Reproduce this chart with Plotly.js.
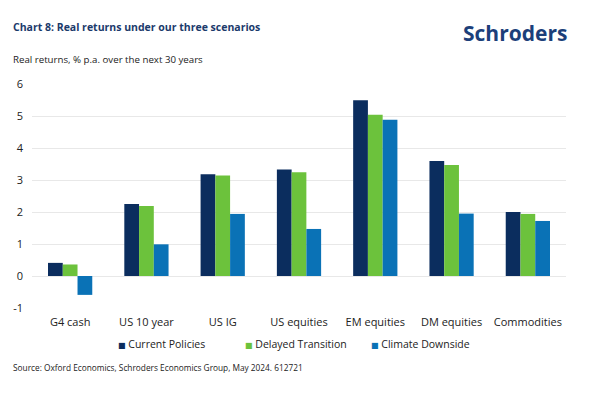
<!DOCTYPE html>
<html>
<head>
<meta charset="utf-8">
<script src="https://cdn.plot.ly/plotly-3.0.1.min.js"></script>
<style>
html,body{margin:0;padding:0;background:#fff;}
#chart{width:600px;height:396px;}
</style>
</head>
<body>
<div id="chart"></div>
<script>
const categories = ["G4 cash", "US 10 year", "US IG", "US equities", "EM equities", "DM equities", "Commodities"];
const currentPolicies = [0.41, 2.25, 3.18, 3.33, 5.49, 3.59, 2.00];
const delayedTransition = [0.36, 2.19, 3.14, 3.24, 5.04, 3.47, 1.94];
const climateDownside = [-0.59, 0.99, 1.94, 1.47, 4.88, 1.95, 1.72];
const seriesNames = ["Current Policies", "Delayed Transition", "Climate Downside"];
const yTicks = [-1, 0, 1, 2, 3, 4, 5, 6];

const colors = ["#0b2d5e", "#6cc23c", "#0a72b6"];
const font = "Open Sans, Noto Sans, sans-serif";
const seriesData = [currentPolicies, delayedTransition, climateDownside];
const legendIds = ["legend", "legend2", "legend3"];
const legendLeftPx = [78, 205, 331];

const traces = seriesData.map((vals, i) => ({
  type: "bar",
  name: seriesNames[i],
  x: categories,
  y: vals,
  marker: {color: colors[i], line: {width: 0}},
  showlegend: false,
  legendgroup: "g" + i
}));

// legend entries: small square glyph in the series colour
seriesNames.forEach((n, i) => {
  traces.push({
    type: "scatter",
    mode: "none",
    x: [null],
    y: [null],
    name: '<span style="color:' + colors[i] + ';font-family:DejaVu Sans;font-size:8px">■</span> ' + n,
    legendgroup: "g" + i,
    legend: legendIds[i],
    showlegend: true,
    hoverinfo: "skip"
  });
});

const layout = {
  width: 600,
  height: 396,
  paper_bgcolor: "#ffffff",
  plot_bgcolor: "#ffffff",
  margin: {l: 32, r: 34, t: 84, b: 88},
  barmode: "group",
  bargap: 0.42,
  bargroupgap: 0,
  font: {family: font, size: 11, color: "#222222"},
  xaxis: {
    showgrid: false,
    zeroline: false,
    showline: false,
    ticks: "",
    tickfont: {family: font, size: 11, color: "#222222"},
    ticklabelstandoff: 6
  },
  yaxis: {
    range: [-1, 6],
    tickvals: yTicks,
    ticktext: yTicks.map(String),
    showgrid: true,
    gridcolor: "#e8e8e8",
    gridwidth: 1,
    zeroline: false,
    showline: false,
    ticks: "",
    tickfont: {family: font, size: 11, color: "#222222"},
    ticklabelstandoff: 8
  },
  showlegend: true,
  annotations: [
    {text: "<b>Chart 8: Real returns under our three scenarios</b>", xref: "paper", yref: "paper",
     x: (11 - 32) / 534, y: (308 - 27) / 224, xanchor: "left", yanchor: "middle", showarrow: false,
     font: {family: font, size: 10.5, color: "#1b3a6b"}},
    {text: "Real returns, % p.a. over the next 30 years", xref: "paper", yref: "paper",
     x: (11 - 32) / 534, y: (308 - 60) / 224, xanchor: "left", yanchor: "middle", showarrow: false,
     font: {family: font, size: 9.7, color: "#222222"}},
    {text: "<b>Schroders</b>", xref: "paper", yref: "paper",
     x: (569 - 32) / 534, y: (308 - 33) / 224, xanchor: "right", yanchor: "middle", showarrow: false,
     font: {family: font, size: 21, color: "#1c3f7a"}},
    {text: "Source: Oxford Economics, Schroders Economics Group, May 2024. 612721", xref: "paper", yref: "paper",
     x: (11 - 32) / 534, y: (308 - 367) / 224, xanchor: "left", yanchor: "middle", showarrow: false,
     font: {family: font, size: 8.3, color: "#222222"}}
  ]
};

legendIds.forEach((id, i) => {
  layout[id] = {
    orientation: "h",
    x: (legendLeftPx[i] - 32) / 534,
    xanchor: "left",
    y: -0.16,
    yanchor: "middle",
    font: {family: font, size: 10.5, color: "#222222"},
    itemwidth: 30,
    bgcolor: "rgba(0,0,0,0)"
  };
});

Plotly.newPlot("chart", traces, layout, {displayModeBar: false, staticPlot: true});
</script>
</body>
</html>
